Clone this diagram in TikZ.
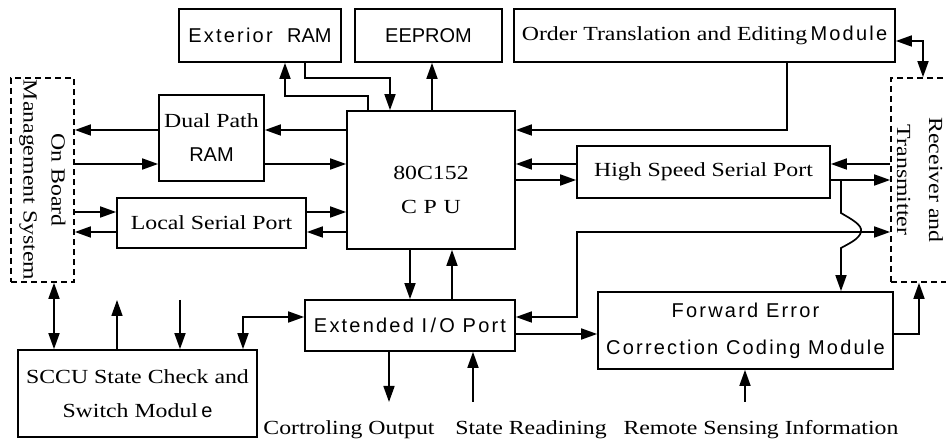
\documentclass[tikz,border=0pt]{standalone}
\usepackage{fontspec}
\setmainfont{Liberation Serif}[FakeStretch=1.19]
\newfontfamily\sansx{Liberation Sans}[LetterSpace=11]
\newfontfamily\sansp{Liberation Sans}
\usetikzlibrary{arrows.meta}
\begin{document}
\begin{tikzpicture}[x=1pt,y=-1pt,line width=1.7pt,
  >={Triangle[length=16pt,width=11pt]},
  box/.style={draw,rectangle,inner sep=0pt,align=center,font=\fontsize{20}{34}\selectfont},
  dbox/.style={draw,rectangle,inner sep=0pt,dash pattern=on 6pt off 4pt},
  txt/.style={inner sep=0pt,align=center,font=\fontsize{20}{34}\selectfont},
  vtext/.style={rotate=-90,align=center,inner sep=0pt,font=\fontsize{20}{28}\selectfont},
  lbl/.style={anchor=base,inner sep=0pt,font=\fontsize{20}{24}\selectfont}]
\useasboundingbox (0,0) rectangle (946,443);
% boxes
\node[box,minimum width=162pt,minimum height=53pt] (ext) at (260,35.5) {\fontsize{20}{20}\sansx Exterior\,\, \sansp RAM};
\node[box,minimum width=147pt,minimum height=53pt] (eep) at (428.5,35.5) {\fontsize{20}{20}\sansp EEPROM};
\node[box,minimum width=381pt,minimum height=53pt] (otm) at (704.5,35.5) {Order Translation and Editing\,{\fontsize{20}{20}\sansx Module}};
\node[box,minimum width=168pt,minimum height=138pt] (cpu) at (431,180) {};
\node[txt] (cput) at (431,190) {80C152\\C\,\,P\,\,U};
\node[box,minimum width=105pt,minimum height=86pt] (dpr) at (211.5,138) {Dual Path\\{\fontsize{20}{20}\sansp RAM}};
\node[box,minimum width=189pt,minimum height=50pt] (lsp) at (211.5,223) {Local Serial Port};
\node[box,minimum width=253pt,minimum height=52pt] (hssp) at (703.5,172) {High Speed Serial Port};
\node[box,minimum width=210pt,minimum height=51pt] (eio) at (410,325.5) {\fontsize{20}{20}\sansx Extended I\,/\,O Port};
\node[box,minimum width=295pt,minimum height=77pt,font=\fontsize{20}{37}\sansx] (fec) at (745.5,330.5) {Forward Error\hspace{1.5em}\\Correction Coding Module};
\node[box,minimum width=239pt,minimum height=87pt] (sccu) at (137.5,393.5) {SCCU State Check and\\Switch Modul\,{\fontsize{20}{20}\sansp e}};
\node[dbox,minimum width=63pt,minimum height=204pt] (obms) at (42.5,180) {};
\node[vtext] (obmst) at (42.5,180) {On Board\\Management System};
\node[dbox,minimum width=59pt,minimum height=204pt] (rt) at (920.5,180) {};
\node[vtext,font=\fontsize{20}{32}\selectfont] (rtt) at (920,180) {Receiver and\\Transmitter};
% labels
\node[lbl] (colbl) at (349,435) {Cortroling Output};
\node[lbl] (srlbl) at (531,435) {State Readining};
\node[lbl] (rslbl) at (761,435) {Remote Sensing Information};
% free ends
\coordinate (co) at (389,402);
\coordinate (sr) at (473,402);
\coordinate (rs) at (745,402);
\coordinate (s1) at (117,300);
\coordinate (s2) at (180,300);
\coordinate (br) at (841,180);
% top connectors
\draw[->] (cpu.north -| 368,0) -- (368,96) -- (285,96) -- (ext.south -| 285,0);
\draw[->] (ext.south -| 305,0) -- (305,78) -- (390,78) -- (cpu.north -| 390,0);
\draw[->] (cpu.north -| 432,0) -- (eep.south -| 432,0);
\draw[->] (otm.south -| 787,0) -- (787,130) -- (cpu.east |- 0,130);
\draw[<->] (otm.east |- 0,41) -- (923,41) -- (rt.north -| 923,0);
% high speed serial port
\draw[->] (hssp.west |- 0,164) -- (cpu.east |- 0,164);
\draw[->] (cpu.east |- 0,180) -- (hssp.west |- 0,180);
\draw[->] (rt.west |- 0,164) -- (hssp.east |- 0,164);
\draw[->] (hssp.east |- 0,180) -- (rt.west |- 0,180);
\draw[->] (br) -- (841,213) .. controls (851,219) and (863,225) .. (861,232)
  .. controls (859,239) and (850,243) .. (841,248) -- (fec.north -| br);
% extended io
\draw[<->] (eio.east |- 0,317) -- (577,317) -- (577,232) -- (rt.west |- 0,232);
\draw[->] (eio.east |- 0,334) -- (fec.west |- 0,334);
\draw[->] (fec.east |- 0,334) -- (919,334) -- (rt.south -| 919,0);
\draw[->] (cpu.south -| 410,0) -- (eio.north -| 410,0);
\draw[->] (eio.north -| 452,0) -- (cpu.south -| 452,0);
\draw[->] (eio.south -| co) -- (co);
\draw[->] (sr) -- (eio.south -| sr);
\draw[->] (rs) -- (fec.south -| rs);
% left side
\draw[->] (cpu.west |- 0,130) -- (dpr.east |- 0,130);
\draw[->] (dpr.west |- 0,130) -- (obms.east |- 0,130);
\draw[->] (obms.east |- 0,164) -- (dpr.west |- 0,164);
\draw[->] (dpr.east |- 0,164) -- (cpu.west |- 0,164);
\draw[->] (obms.east |- 0,212) -- (lsp.west |- 0,212);
\draw[->] (lsp.east |- 0,212) -- (cpu.west |- 0,212);
\draw[->] (cpu.west |- 0,232) -- (lsp.east |- 0,232);
\draw[->] (lsp.west |- 0,232) -- (obms.east |- 0,232);
% sccu
\draw[<->] (obms.south -| 54,0) -- (sccu.north -| 54,0);
\draw[->] (sccu.north -| s1) -- (s1);
\draw[->] (s2) -- (sccu.north -| s2);
\draw[<->] (eio.west |- 0,317) -- (243,317) -- (sccu.north -| 243,0);
\end{tikzpicture}
\end{document}
